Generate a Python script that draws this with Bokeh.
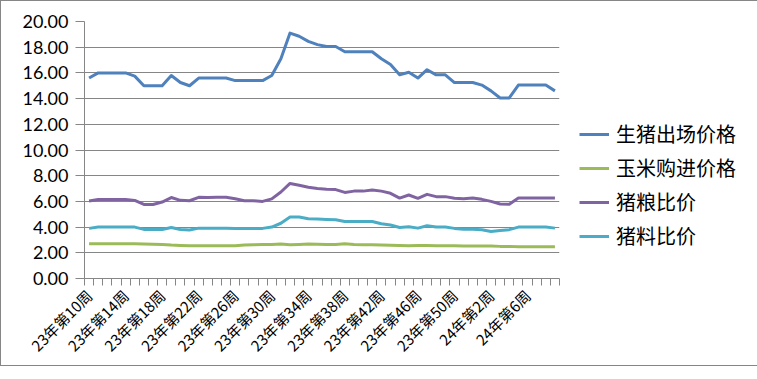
from bokeh.plotting import figure
from bokeh.models import FixedTicker, Legend, LegendItem, Range1d
from bokeh.embed import file_html
from bokeh.resources import INLINE

weeks = ["23年第%d周" % w for w in range(10, 53)] + ["24年第%d周" % w for w in range(1, 10)]

hog_price = [15.6, 16.0, 16.0, 16.0, 16.0, 15.75, 15.0, 15.0, 15.0, 15.8,
             15.25, 15.0, 15.6, 15.6, 15.6, 15.6, 15.4, 15.4, 15.4, 15.4,
             15.8, 17.1, 19.1, 18.85, 18.45, 18.2, 18.05, 18.05, 17.65, 17.65,
             17.65, 17.65, 17.1, 16.65, 15.85, 16.05, 15.6, 16.25, 15.85, 15.85,
             15.25, 15.25, 15.25, 15.05, 14.6, 14.05, 14.05, 15.05, 15.05, 15.05,
             15.05, 14.6]
corn_price = [2.7, 2.7, 2.7, 2.7, 2.7, 2.7, 2.68, 2.67, 2.65, 2.6,
              2.57, 2.55, 2.55, 2.55, 2.55, 2.55, 2.55, 2.6, 2.62, 2.65,
              2.65, 2.68, 2.62, 2.65, 2.68, 2.67, 2.65, 2.65, 2.7, 2.65,
              2.63, 2.62, 2.6, 2.58, 2.57, 2.55, 2.56, 2.56, 2.55, 2.55,
              2.55, 2.52, 2.52, 2.52, 2.52, 2.5, 2.5, 2.47, 2.47, 2.47,
              2.47, 2.47]
pig_grain = [6.03, 6.15, 6.15, 6.15, 6.15, 6.08, 5.76, 5.76, 5.95, 6.3,
             6.08, 6.05, 6.32, 6.3, 6.32, 6.32, 6.2, 6.05, 6.05, 6.0,
             6.2, 6.73, 7.4, 7.26, 7.1, 7.0, 6.95, 6.92, 6.7, 6.8,
             6.8, 6.88, 6.8, 6.63, 6.26, 6.5, 6.24, 6.55, 6.37, 6.37,
             6.24, 6.2, 6.26, 6.16, 6.0, 5.8, 5.77, 6.26, 6.26, 6.26,
             6.26, 6.26]
pig_feed = [3.9, 4.0, 4.0, 4.0, 4.0, 4.0, 3.82, 3.82, 3.82, 3.97,
            3.82, 3.77, 3.92, 3.92, 3.92, 3.92, 3.9, 3.9, 3.9, 3.9,
            4.0, 4.3, 4.78, 4.78, 4.65, 4.63, 4.6, 4.57, 4.44, 4.44,
            4.44, 4.44, 4.26, 4.16, 3.97, 4.03, 3.92, 4.1, 4.0, 4.0,
            3.9, 3.84, 3.84, 3.8, 3.66, 3.74, 3.8, 4.0, 4.0, 4.0,
            4.0, 3.92]

series_names = ["生猪出场价格", "玉米购进价格", "猪粮比价", "猪料比价"]
series_colors = ["#4F81BD", "#9BBB59", "#8064A2", "#4BACC6"]
y_ticks = [0, 2, 4, 6, 8, 10, 12, 14, 16, 18, 20]

n = len(weeks)
xs = list(range(n))

p = figure(frame_width=475, frame_height=257, output_backend="svg", toolbar_location=None,
           x_range=Range1d(-0.5, n - 0.5), y_range=Range1d(0, 20),
           min_border_left=83, min_border_right=183, min_border_top=20,
           min_border_bottom=86)
p.outline_line_color = None
p.background_fill_color = "white"
p.border_fill_color = "white"
p.styles = {"border": "1px solid #868686"}

# axes
p.xaxis.ticker = FixedTicker(ticks=list(range(0, n, 4)),
                             minor_ticks=[i - 0.5 for i in range(n + 1)])
p.xaxis.major_label_overrides = {i: weeks[i] for i in range(0, n, 4)}
p.xaxis.major_label_orientation = 3.14159265 / 4
p.xaxis.major_tick_out = 0
p.xaxis.major_tick_in = 0
p.xaxis.minor_tick_out = 7
p.xaxis.minor_tick_in = 0
p.xaxis.minor_tick_line_color = "#868686"
p.xaxis.axis_line_color = "#868686"
p.xaxis.major_label_standoff = 7
p.xaxis.major_label_text_font = "Noto Sans CJK SC"
p.xaxis.major_label_text_font_size = "15px"
p.xaxis.major_label_text_color = "black"

p.yaxis.ticker = FixedTicker(ticks=y_ticks)
p.yaxis.major_label_overrides = {t: "%.2f" % t for t in y_ticks}
p.yaxis.major_tick_out = 9
p.yaxis.major_tick_in = 0
p.yaxis.minor_tick_line_color = None
p.yaxis.major_tick_line_color = "#868686"
p.yaxis.axis_line_color = "#868686"
p.yaxis.major_label_standoff = 7
p.yaxis.major_label_text_font = "Lato"
p.yaxis.major_label_text_font_size = "18px"
p.yaxis.major_label_text_color = "black"

p.xgrid.grid_line_color = None
p.ygrid.ticker = FixedTicker(ticks=y_ticks)
p.ygrid.grid_line_color = "#868686"
p.ygrid.grid_line_width = 1

renderers = []
for vals, color in zip([hog_price, corn_price, pig_grain, pig_feed], series_colors):
    r = p.line(xs, vals, line_color=color, line_width=3, line_join="round")
    renderers.append(r)

legend = Legend(items=[LegendItem(label=nm, renderers=[r]) for nm, r in zip(series_names, renderers)],
                location=(20, 28), border_line_color=None, background_fill_alpha=0,
                glyph_width=30, glyph_height=22, label_height=22, spacing=5,
                padding=0, margin=0, label_standoff=7,
                label_text_font="Noto Sans CJK SC", label_text_font_size="20px",
                label_text_color="black")
p.add_layout(legend, "right")

open("out.html", "w").write(file_html(p, INLINE))
